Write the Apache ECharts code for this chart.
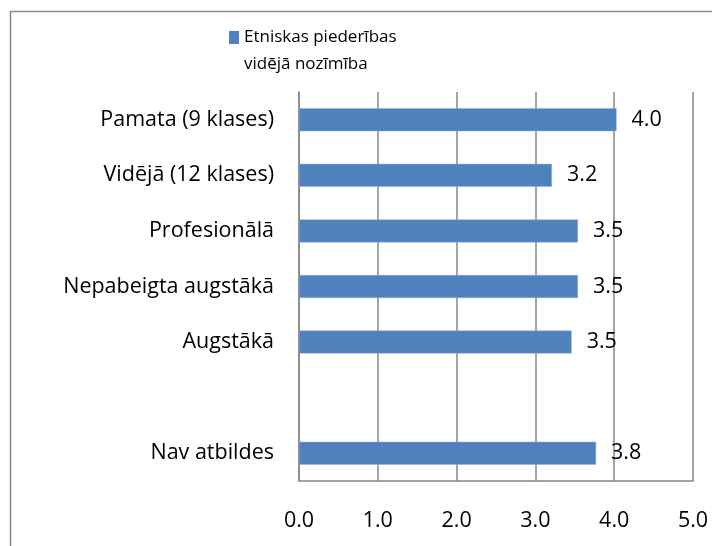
<!DOCTYPE html>
<html><head><meta charset="utf-8">
<script src="https://cdn.jsdelivr.net/npm/echarts@6/dist/echarts.min.js"></script>
<style>html,body{margin:0;padding:0;background:#fff}#c{width:712px;height:546px}</style>
</head><body><div id="c"></div>
<script>
var categories = ['Pamata (9 klases)', 'Vidējā (12 klases)', 'Profesionālā', 'Nepabeigta augstākā', 'Augstākā', '', 'Nav atbildes'];
var values = [4.03, 3.21, 3.54, 3.54, 3.46, null, 3.77];
var seriesName = 'Etniskas piederības vidējā nozīmība';
var legendLine1 = 'Etniskas piederības';
var legendLine2 = 'vidējā nozīmība';
var xTicks = [0, 1, 2, 3, 4, 5];

var FONT = 'Open Sans';
var FS = 21.5;
var LFS = 17;
var chart = echarts.init(document.getElementById('c'));
chart.setOption({
  animation: false,
  textStyle: {fontFamily: FONT},
  grid: {left: 299, right: 19, top: 92, bottom: 65, containLabel: false},
  legend: {
    show: true, left: 229, top: 29, padding: 0, itemWidth: 10, itemHeight: 13, icon: 'rect', itemGap: 5,
    itemStyle: {borderWidth: 0},
    formatter: function () { return legendLine1; },
    textStyle: {fontFamily: FONT, fontSize: LFS, color: '#000', padding: [0,0,0,0]}
  },
  graphic: [
    {type: 'rect', shape: {x: 10.5, y: 11.5, width: 800, height: 600}, style: {fill: 'none', stroke: '#8a8a8a', lineWidth: 1.5}, silent: true},
    {type: 'text', left: 244, top: 56, style: {text: legendLine2, font: LFS + 'px "' + FONT + '"', fill: '#000'}}
  ],
  xAxis: {
    type: 'value', min: xTicks[0], max: xTicks[xTicks.length - 1], interval: 1,
    axisLine: {show: true, lineStyle: {color: '#878787', width: 1.5}},
    axisTick: {show: false},
    splitLine: {show: true, lineStyle: {color: '#878787', width: 1.5}},
    axisLabel: {formatter: function (v) { return v.toFixed(1); }, fontSize: FS, color: '#000', margin: 29, fontFamily: FONT}
  },
  yAxis: {
    type: 'category', inverse: true, data: categories,
    axisLine: {show: true, lineStyle: {color: '#878787', width: 1.5}},
    axisTick: {show: false},
    axisLabel: {fontSize: FS, color: '#000', margin: 25, fontFamily: FONT}
  },
  series: [{
    name: seriesName, type: 'bar', data: values, barWidth: 23,
    itemStyle: {color: '#4F81BD', borderColor: '#95B3D7', borderWidth: 0.5},
    label: {show: true, position: 'right', distance: 15, fontSize: FS, color: '#000', fontFamily: FONT,
      formatter: function (p) { return p.value == null ? '' : p.value.toFixed(1); }}
  }]
});
</script></body></html>
